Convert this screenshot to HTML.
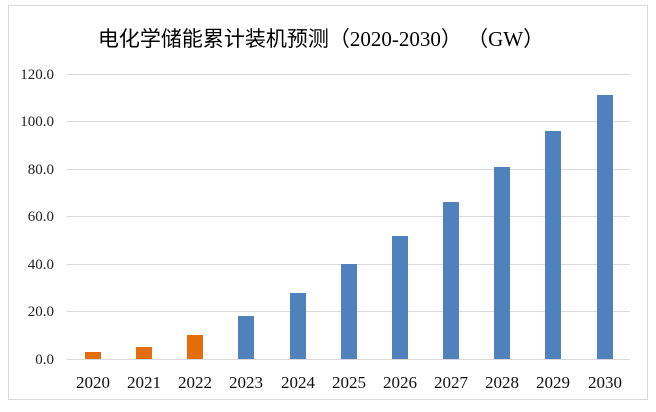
<!DOCTYPE html>
<html><head><meta charset="utf-8"><style>
body{margin:0;background:#fff;}
svg text{font-family:"Liberation Serif",serif;}
</style></head><body>
<svg width="656" height="407" xmlns="http://www.w3.org/2000/svg">
<rect x="8.5" y="5.5" width="639" height="394" fill="#fff" stroke="#d9d9d9"/>
<text x="321" y="46" text-anchor="middle" font-size="21" fill="#000" style="font-family:'Liberation Serif','Noto Sans CJK SC',sans-serif">电化学储能累计装机预测（2020-2030） （GW）</text>
<g stroke="#d9d9d9" stroke-width="1">
<line x1="67" x2="630" y1="74.5" y2="74.5"/>
<line x1="67" x2="630" y1="121.5" y2="121.5"/>
<line x1="67" x2="630" y1="169.5" y2="169.5"/>
<line x1="67" x2="630" y1="216.5" y2="216.5"/>
<line x1="67" x2="630" y1="264.5" y2="264.5"/>
<line x1="67" x2="630" y1="311.5" y2="311.5"/>
<line x1="67" x2="630" y1="359.5" y2="359.5"/>
</g>
<g font-size="15" text-anchor="end" fill="#222">
<text x="54" y="79">120.0</text><text x="54" y="126">100.0</text><text x="54" y="174">80.0</text>
<text x="54" y="221">60.0</text><text x="54" y="269">40.0</text><text x="54" y="316">20.0</text><text x="54" y="364">0.0</text>
</g>
<g>
<rect x="85" y="352" width="16" height="7" fill="#e46c0a"/>
<rect x="136" y="347" width="16" height="12" fill="#e46c0a"/>
<rect x="187" y="335" width="16" height="24" fill="#e46c0a"/>
<rect x="238" y="316" width="16" height="43" fill="#4f81bd"/>
<rect x="290" y="293" width="16" height="66" fill="#4f81bd"/>
<rect x="341" y="264" width="16" height="95" fill="#4f81bd"/>
<rect x="392" y="236" width="16" height="123" fill="#4f81bd"/>
<rect x="443" y="202" width="16" height="157" fill="#4f81bd"/>
<rect x="494" y="167" width="16" height="192" fill="#4f81bd"/>
<rect x="545" y="131" width="16" height="228" fill="#4f81bd"/>
<rect x="597" y="95" width="16" height="264" fill="#4f81bd"/>
</g>
<g font-size="17" text-anchor="middle" fill="#111">
<text x="93" y="388">2020</text><text x="144" y="388">2021</text><text x="195" y="388">2022</text>
<text x="246" y="388">2023</text><text x="298" y="388">2024</text><text x="349" y="388">2025</text>
<text x="400" y="388">2026</text><text x="451" y="388">2027</text><text x="502" y="388">2028</text>
<text x="553" y="388">2029</text><text x="605" y="388">2030</text>
</g>
</svg>
</body></html>
